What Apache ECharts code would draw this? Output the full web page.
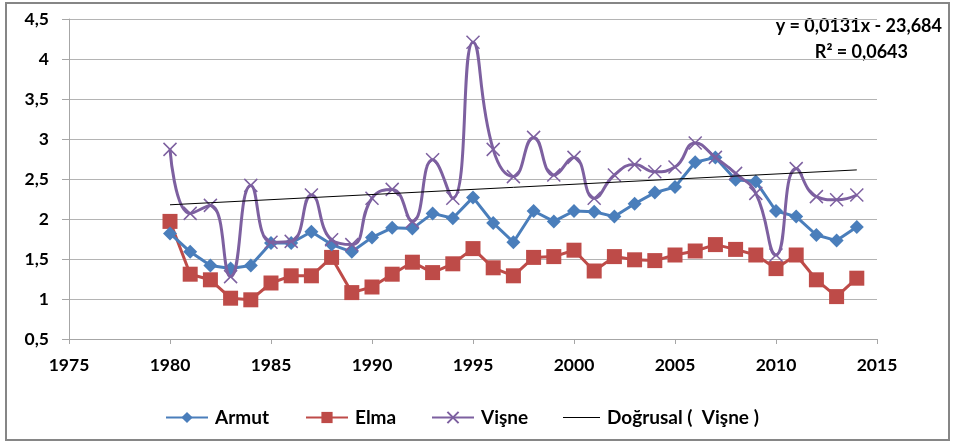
<!DOCTYPE html>
<html><head><meta charset="utf-8">
<script src="https://cdn.jsdelivr.net/npm/echarts@6/dist/echarts.min.js"></script>
<style>html,body{margin:0;padding:0;background:#fff}#c{width:954px;height:443px}</style>
</head><body><div id="c"></div>
<script>
const years = [1980,1981,1982,1983,1984,1985,1986,1987,1988,1989,1990,1991,1992,1993,1994,1995,1996,1997,1998,1999,2000,2001,2002,2003,2004,2005,2006,2007,2008,2009,2010,2011,2012,2013,2014];
const armut = [1.82,1.59,1.42,1.38,1.42,1.70,1.70,1.84,1.68,1.59,1.77,1.89,1.88,2.07,2.01,2.27,1.95,1.71,2.10,1.97,2.10,2.09,2.03,2.19,2.33,2.40,2.71,2.77,2.49,2.47,2.10,2.03,1.80,1.73,1.90];
const elma = [1.97,1.31,1.24,1.01,0.99,1.20,1.29,1.29,1.52,1.08,1.15,1.31,1.46,1.33,1.44,1.63,1.39,1.29,1.52,1.53,1.61,1.35,1.53,1.49,1.48,1.55,1.60,1.68,1.62,1.55,1.38,1.55,1.24,1.03,1.26];
const visne = [2.87,2.07,2.17,1.28,2.42,1.71,1.72,2.30,1.74,1.68,2.26,2.37,1.97,2.74,2.26,4.21,2.87,2.53,3.02,2.55,2.77,2.26,2.55,2.68,2.59,2.65,2.95,2.77,2.57,2.32,1.55,2.63,2.28,2.24,2.30];
const xTicks = [1975,1980,1985,1990,1995,2000,2005,2010,2015];
const yTicks = [0.5,1,1.5,2,2.5,3,3.5,4,4.5];
const names = ['Armut','Elma','Vişne','Doğrusal (  Vişne )'];
const eqText = ['y = 0,0131x - 23,684','R² = 0,0643'];

// least-squares trend of Vişne
const n = years.length;
const mx = years.reduce((a,b)=>a+b,0)/n, my = visne.reduce((a,b)=>a+b,0)/n;
let sxy=0,sxx=0; for(let i=0;i<n;i++){sxy+=(years[i]-mx)*(visne[i]-my);sxx+=(years[i]-mx)**2;}
const slope=sxy/sxx, icpt=my-slope*mx;
const trend=[[years[0],icpt+slope*years[0]],[years[n-1],icpt+slope*years[n-1]]];

const font='Lato';
const fmt=v=>String(v).replace('.',',');
const lineIcon='path://M0,0L0.01,0L0,0.01Z M0,6.5L40,6.5L40,7.5L0,7.5Z M39.99,14L40,14L40,13.99Z';
const legPos=[160,300,426,558];
const legText={fontFamily:font,fontWeight:'bold',fontSize:19,color:'#000',padding:[0,0,0,2]};
const chart=echarts.init(document.getElementById('c'),null,{renderer:'canvas'});
chart.setOption({
  animation:false,
  backgroundColor:'#fff',
  grid:{left:69,right:77,top:19,bottom:104},
  xAxis:{type:'value',min:xTicks[0],max:xTicks[xTicks.length-1],interval:5,
    axisLine:{lineStyle:{color:'#a6a6a6',width:1}},
    axisTick:{show:true,length:5,lineStyle:{color:'#a6a6a6'}},
    splitLine:{show:false},
    axisLabel:{color:'#000',fontFamily:font,fontWeight:'bold',fontSize:17.5,margin:17,formatter:v=>String(v)}},
  yAxis:{type:'value',min:yTicks[0],max:yTicks[yTicks.length-1],interval:0.5,
    axisLine:{show:true,lineStyle:{color:'#a6a6a6',width:1}},
    axisTick:{show:true,length:7,lineStyle:{color:'#a6a6a6'}},
    splitLine:{lineStyle:{color:'#b4b4b4',width:1}},
    axisLabel:{color:'#000',fontFamily:font,fontWeight:'bold',fontSize:17.5,margin:20,formatter:fmt}},
  legend:names.map((nm,i)=>({left:legPos[i],top:403,itemWidth:i===3?37:42,itemHeight:14,
    textStyle:legText,
    data:[i===3?{name:nm,icon:lineIcon,itemStyle:{color:'#000'}}:{name:nm}]})),
  series:[
    {name:names[0],type:'line',data:years.map((y,i)=>[y,armut[i]]),symbol:'diamond',symbolSize:14,
      lineStyle:{color:'#4a7ebb',width:3},itemStyle:{color:'#4a7ebb'},z:3},
    {name:names[1],type:'line',data:years.map((y,i)=>[y,elma[i]]),symbol:'rect',symbolSize:15,
      lineStyle:{color:'#be4b48',width:3},itemStyle:{color:'#be4b48'},z:2},
    {name:names[2],type:'line',data:years.map((y,i)=>[y,visne[i]]),smooth:0.5,
      symbol:'path://M0,0L10,10M10,0L0,10',symbolSize:13,
      lineStyle:{color:'#7d60a0',width:3},itemStyle:{color:'#7d60a0',borderColor:'#7d60a0',borderWidth:1.5},z:4},
    {name:names[3],type:'line',data:trend,symbol:'none',
      lineStyle:{color:'#000',width:1},itemStyle:{color:'#000'},z:5}
  ],
  graphic:[
    {type:'rect',shape:{x:6,y:3,width:943,height:437},style:{fill:'none',stroke:'#868686',lineWidth:2},silent:true},
    {type:'text',right:12,top:17,style:{text:eqText[0],font:'bold 18px Lato',fill:'#000',textAlign:'right'}},
    {type:'text',right:46,top:43,style:{text:eqText[1],font:'bold 18px Lato',fill:'#000',textAlign:'right'}}
  ]
});
</script></body></html>
